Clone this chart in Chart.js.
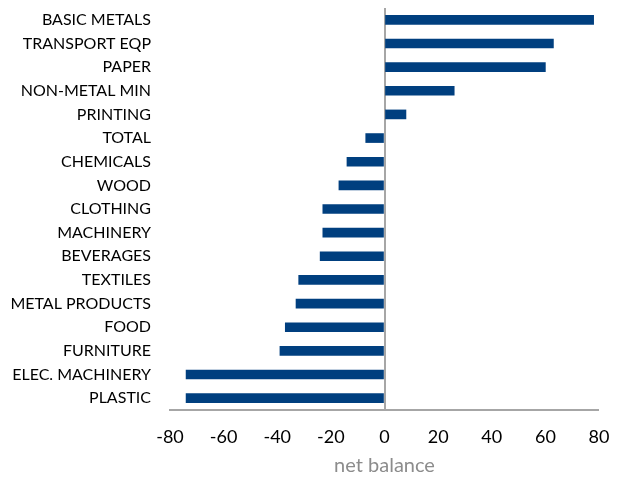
<!DOCTYPE html>
<html>
<head>
<meta charset="utf-8">
<script src="https://cdn.jsdelivr.net/npm/chart.js@4"></script>
<style>
  html, body { margin: 0; padding: 0; background: #fff; }
  #wrap { width: 621px; height: 478px; }
</style>
</head>
<body>
<div id="wrap"><canvas id="c" width="621" height="478"></canvas></div>
<script>
// Sectors, top to bottom
const sectors = [
  "BASIC METALS", "TRANSPORT EQP", "PAPER", "NON-METAL MIN", "PRINTING",
  "TOTAL", "CHEMICALS", "WOOD", "CLOTHING", "MACHINERY", "BEVERAGES",
  "TEXTILES", "METAL PRODUCTS", "FOOD", "FURNITURE", "ELEC. MACHINERY", "PLASTIC"
];
// Net balance per sector
const netBalance = [78, 63, 60, 26, 8, -7, -14, -17, -23, -23, -24, -32, -33, -37, -39, -74, -74];
// Value axis ticks
const xTicks = [-80, -60, -40, -20, 0, 20, 40, 60, 80];

const FONT = "Lato, 'Open Sans', sans-serif";

new Chart(document.getElementById("c"), {
  type: "bar",
  data: {
    labels: sectors,
    datasets: [{
      data: netBalance,
      backgroundColor: "#003f7f",
      borderWidth: 0,
      barThickness: 9
    }]
  },
  options: {
    indexAxis: "y",
    responsive: false,
    animation: false,
    layout: { padding: { top: 8, right: 22, left: 0, bottom: 0 } },
    plugins: { legend: { display: false }, tooltip: { enabled: false } },
    scales: {
      x: {
        min: -80, max: 80,
        afterBuildTicks: s => { s.ticks = xTicks.map(v => ({ value: v })); },
        afterFit: s => { s.height = 68; s.paddingLeft = 0; s.paddingRight = 0; },
        border: { display: true, color: "#a6a6a6", width: 2 },
        grid: {
          drawTicks: false,
          lineWidth: ctx => (ctx.tick && ctx.tick.value === 0 ? 2 : 0),
          color: ctx => (ctx.tick && ctx.tick.value === 0 ? "#a6a6a6" : "rgba(0,0,0,0)")
        },
        ticks: {
          padding: 16,
          color: "#000",
          font: { family: FONT, size: 18 }
        },
        title: {
          display: true,
          text: "net balance",
          color: "#8c8c8c",
          padding: { top: 0, bottom: 0 },
          font: { family: FONT, size: 20 }
        }
      },
      y: {
        afterFit: s => { s.width = 170; s.paddingTop = 0; s.paddingBottom = 0; },
        border: { display: false },
        grid: { display: false, drawTicks: false },
        ticks: {
          padding: 19,
          color: "#000",
          font: { family: FONT, size: 16 }
        }
      }
    }
  }
});
</script>
</body>
</html>
